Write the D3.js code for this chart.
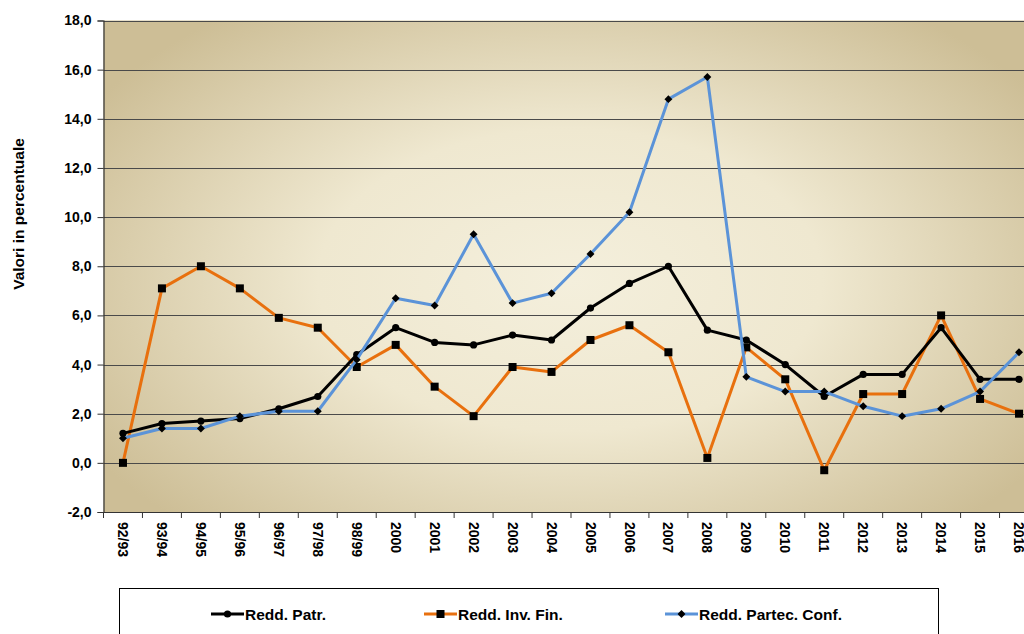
<!DOCTYPE html>
<html>
<head>
<meta charset="utf-8">
<script src="https://cdn.jsdelivr.net/npm/d3@7"></script>
<style>
  body { margin: 0; background: #fff; }
  svg { display: block; font-family: "Liberation Sans", Arial, sans-serif; }
</style>
</head>
<body>
<div id="chart"></div>
<script>
var categories = ["92/93", "93/94", "94/95", "95/96", "96/97", "97/98", "98/99",
   "2000", "2001", "2002", "2003", "2004", "2005", "2006", "2007", "2008",
   "2009", "2010", "2011", "2012", "2013", "2014", "2015", "2016"];

var reddPatr = [1.2, 1.6, 1.7, 1.8, 2.2, 2.7, 4.4, 5.5, 4.9, 4.8, 5.2, 5.0,
   6.3, 7.3, 8.0, 5.4, 5.0, 4.0, 2.7, 3.6, 3.6, 5.5, 3.4, 3.4];

var reddInvFin = [0.0, 7.1, 8.0, 7.1, 5.9, 5.5, 3.9, 4.8, 3.1, 1.9, 3.9, 3.7,
   5.0, 5.6, 4.5, 0.2, 4.7, 3.4, -0.3, 2.8, 2.8, 6.0, 2.6, 2.0];

var reddPartec = [1.0, 1.4, 1.4, 1.9, 2.1, 2.1, 4.2, 6.7, 6.4, 9.3, 6.5, 6.9,
   8.5, 10.2, 14.8, 15.7, 3.5, 2.9, 2.9, 2.3, 1.9, 2.2, 2.9, 4.5];

var yTicks = [-2, 0, 2, 4, 6, 8, 10, 12, 14, 16, 18];

var series = [
   { name: "Redd. Patr.", values: reddPatr, color: "#000000", marker: "circle" },
   { name: "Redd. Inv. Fin.", values: reddInvFin, color: "#E8700E", marker: "square" },
   { name: "Redd. Partec. Conf.", values: reddPartec, color: "#5B93D8", marker: "diamond" }
];

function drawChart() {
   var W = 1024, H = 634;
   var plotLeft = 103.5, plotTop = 20.5, plotBottom = 512, plotW = 935;

   var svg = d3.select("#chart").append("svg").attr("width", W).attr("height", H);

   var x = d3.scaleBand().domain(categories).range([plotLeft, plotLeft + plotW]);
   var y = d3.scaleLinear().domain([-2, 18]).range([plotBottom, plotTop]);

   // background gradient
   var defs = svg.append("defs");
   var grad = defs.append("radialGradient").attr("id", "bg")
      .attr("gradientUnits", "userSpaceOnUse")
      .attr("cx", 570).attr("cy", 280).attr("r", 560)
      .attr("gradientTransform", "translate(570,280) scale(1,0.6) translate(-570,-280)");
   grad.append("stop").attr("offset", "0%").attr("stop-color", "#F4EFDC");
   grad.append("stop").attr("offset", "45%").attr("stop-color", "#EFE8D0");
   grad.append("stop").attr("offset", "100%").attr("stop-color", "#CDBE96");

   svg.append("rect")
      .attr("x", plotLeft).attr("y", plotTop)
      .attr("width", plotW).attr("height", plotBottom - plotTop)
      .attr("fill", "url(#bg)");

   // gridlines
   svg.append("g").selectAll("line").data(yTicks.filter(function(d) { return d > -2; }))
      .enter().append("line")
      .attr("x1", plotLeft).attr("x2", plotLeft + plotW)
      .attr("y1", function(d) { return Math.round(y(d)) + 0.5; })
      .attr("y2", function(d) { return Math.round(y(d)) + 0.5; })
      .attr("stroke", "#4a4a4a").attr("stroke-width", 1.2);

   // y axis (hyphen minus, comma decimal as in the original)
   var yAxis = d3.axisLeft(y).tickValues(yTicks).tickSize(6).tickPadding(6)
      .tickFormat(function(d) { return d.toFixed(1).replace(".", ","); });
   var gy = svg.append("g").attr("transform", "translate(" + plotLeft + ",0)").call(yAxis);
   gy.select(".domain").attr("stroke", "#333").attr("stroke-width", 1.2);
   gy.selectAll(".tick line").attr("stroke", "#333");
   gy.selectAll("text").attr("font-size", 14).attr("font-weight", "bold").attr("fill", "#000");

   // x axis
   var xAxis = d3.axisBottom(x).tickSize(0).tickSizeOuter(0);
   var gx = svg.append("g").attr("transform", "translate(0," + plotBottom + ")").call(xAxis);
   gx.select(".domain").attr("stroke", "#333").attr("stroke-width", 1.2);
   gx.selectAll(".tick text")
      .attr("font-size", 14).attr("font-weight", "bold").attr("fill", "#000")
      .attr("text-anchor", "start")
      .attr("dy", "0.35em")
      .attr("transform", "translate(0,10) rotate(90)")
      .attr("y", 0).attr("x", 0);

   // boundary ticks between categories
   svg.append("g").selectAll("line").data(categories)
      .enter().append("line")
      .attr("x1", function(d) { return x(d); }).attr("x2", function(d) { return x(d); })
      .attr("y1", plotBottom).attr("y2", plotBottom + 6)
      .attr("stroke", "#333").attr("stroke-width", 1);

   // y label
   svg.append("text")
      .attr("transform", "translate(24,214) rotate(-90)")
      .attr("text-anchor", "middle")
      .attr("font-size", 15.5).attr("font-weight", "bold")
      .text("Valori in percentuale");

   var line = d3.line()
      .x(function(d, i) { return x(categories[i]) + x.bandwidth() / 2; })
      .y(function(d) { return y(d); });

   function drawMarker(g, type, cx, cy) {
      if (type === "circle") {
         g.append("circle").attr("cx", cx).attr("cy", cy).attr("r", 3.6).attr("fill", "#000");
      } else if (type === "square") {
         g.append("rect").attr("x", cx - 4).attr("y", cy - 4).attr("width", 8).attr("height", 8).attr("fill", "#000");
      } else {
         g.append("path").attr("d", d3.symbol().type(d3.symbolDiamond2).size(40)())
            .attr("transform", "translate(" + cx + "," + cy + ")").attr("fill", "#000");
      }
   }

   var order = [series[1], series[0], series[2]];
   order.forEach(function(s) {
      var g = svg.append("g");
      g.append("path").datum(s.values)
         .attr("d", line)
         .attr("fill", "none")
         .attr("stroke", s.color)
         .attr("stroke-width", 3)
         .attr("stroke-linejoin", "round");
      s.values.forEach(function(v, i) {
         drawMarker(g, s.marker, x(categories[i]) + x.bandwidth() / 2, y(v));
      });
   });

   // legend
   svg.append("rect")
      .attr("x", 119.5).attr("y", 588.5).attr("width", 819).attr("height", 60)
      .attr("fill", "#fff").attr("stroke", "#000").attr("stroke-width", 1);

   var legendX = [211, 424, 665];
   series.forEach(function(s, i) {
      var lg = svg.append("g").attr("transform", "translate(" + legendX[i] + ",614)");
      lg.append("line").attr("x1", 0).attr("x2", 33).attr("y1", 0).attr("y2", 0)
         .attr("stroke", s.color).attr("stroke-width", 3);
      drawMarker(lg, s.marker, 16.5, 0);
      lg.append("text").attr("x", 34).attr("y", 0).attr("dy", "0.36em")
         .attr("font-size", 15.5).attr("font-weight", "bold")
         .text(s.name);
   });
}

drawChart();
</script>
</body>
</html>
